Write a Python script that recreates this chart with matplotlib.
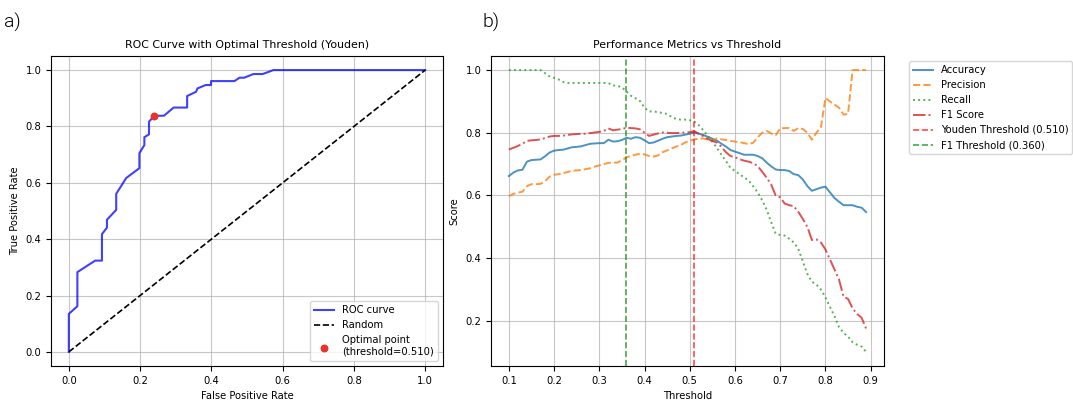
"""Two-panel figure: ROC curve with Youden point, and metrics vs threshold."""

import matplotlib

matplotlib.use("Agg")
import matplotlib.pyplot as plt  # noqa: E402

# ---- panel a) ROC curve -------------------------------------------------
fpr = [0.000, 0.000, 0.024, 0.024, 0.074, 0.093, 0.093, 0.107, 0.107, 0.133,
       0.133, 0.161, 0.198, 0.198, 0.212, 0.212, 0.225, 0.225, 0.240, 0.267,
       0.294, 0.332, 0.332, 0.357, 0.361, 0.384, 0.399, 0.399, 0.465, 0.479,
       0.492, 0.518, 0.544, 0.574, 1.000]
tpr = [0.000, 0.135, 0.162, 0.283, 0.324, 0.324, 0.418, 0.441, 0.469, 0.504,
       0.561, 0.617, 0.652, 0.705, 0.734, 0.762, 0.772, 0.817, 0.838, 0.838,
       0.867, 0.867, 0.908, 0.923, 0.935, 0.947, 0.947, 0.961, 0.961, 0.973,
       0.973, 0.986, 0.986, 1.000, 1.000]
optimal_fpr = 0.240
optimal_tpr = 0.838
youden_threshold = 0.510
f1_threshold = 0.360

# ---- panel b) metrics vs threshold --------------------------------------
thresholds = [
    0.10, 0.11, 0.12, 0.13, 0.14, 0.15, 0.16, 0.17, 0.18, 0.19,
    0.20, 0.21, 0.22, 0.23, 0.24, 0.25, 0.26, 0.27, 0.28, 0.29,
    0.30, 0.31, 0.32, 0.33, 0.34, 0.35, 0.36, 0.37, 0.38, 0.39,
    0.40, 0.41, 0.42, 0.43, 0.44, 0.45, 0.46, 0.47, 0.48, 0.49,
    0.50, 0.51, 0.52, 0.53, 0.54, 0.55, 0.56, 0.57, 0.58, 0.59,
    0.60, 0.61, 0.62, 0.63, 0.64, 0.65, 0.66, 0.67, 0.68, 0.69,
    0.70, 0.71, 0.72, 0.73, 0.74, 0.75, 0.76, 0.77, 0.78, 0.79,
    0.80, 0.81, 0.82, 0.83, 0.84, 0.85, 0.86, 0.87, 0.88, 0.89,
]
accuracy = [
    0.662, 0.673, 0.680, 0.682, 0.708, 0.713, 0.714, 0.715, 0.725, 0.737,
    0.743, 0.745, 0.746, 0.750, 0.754, 0.755, 0.757, 0.761, 0.765, 0.766,
    0.767, 0.767, 0.778, 0.772, 0.773, 0.777, 0.784, 0.781, 0.786, 0.784,
    0.776, 0.767, 0.769, 0.775, 0.781, 0.786, 0.788, 0.790, 0.791, 0.794,
    0.797, 0.801, 0.797, 0.793, 0.787, 0.781, 0.775, 0.765, 0.756, 0.745,
    0.740, 0.735, 0.730, 0.730, 0.730, 0.726, 0.719, 0.705, 0.693, 0.683,
    0.681, 0.681, 0.678, 0.668, 0.665, 0.651, 0.630, 0.615, 0.620, 0.625,
    0.628, 0.610, 0.592, 0.580, 0.569, 0.569, 0.569, 0.564, 0.561, 0.547,
]
precision = [
    0.598, 0.605, 0.609, 0.612, 0.630, 0.636, 0.636, 0.637, 0.646, 0.660,
    0.666, 0.668, 0.671, 0.675, 0.679, 0.680, 0.681, 0.684, 0.687, 0.692,
    0.696, 0.700, 0.704, 0.705, 0.705, 0.712, 0.722, 0.726, 0.730, 0.733,
    0.731, 0.726, 0.724, 0.728, 0.738, 0.744, 0.750, 0.756, 0.761, 0.769,
    0.775, 0.779, 0.781, 0.782, 0.778, 0.774, 0.782, 0.779, 0.777, 0.774,
    0.772, 0.770, 0.767, 0.764, 0.768, 0.785, 0.800, 0.806, 0.798, 0.792,
    0.814, 0.815, 0.815, 0.806, 0.815, 0.812, 0.800, 0.778, 0.800, 0.818,
    0.911, 0.900, 0.890, 0.880, 0.858, 0.860, 1.000, 1.000, 1.000, 1.000,
]
recall = [
    1.000, 1.000, 1.000, 1.000, 1.000, 1.000, 1.000, 1.000, 0.990, 0.980,
    0.975, 0.970, 0.962, 0.959, 0.959, 0.959, 0.959, 0.959, 0.959, 0.959,
    0.959, 0.959, 0.959, 0.951, 0.950, 0.945, 0.932, 0.918, 0.910, 0.901,
    0.880, 0.868, 0.868, 0.866, 0.863, 0.860, 0.850, 0.844, 0.842, 0.842,
    0.840, 0.836, 0.824, 0.808, 0.790, 0.772, 0.752, 0.730, 0.710, 0.688,
    0.678, 0.668, 0.658, 0.648, 0.630, 0.610, 0.585, 0.555, 0.515, 0.478,
    0.474, 0.472, 0.462, 0.450, 0.430, 0.390, 0.350, 0.325, 0.316, 0.300,
    0.275, 0.245, 0.215, 0.180, 0.162, 0.150, 0.132, 0.124, 0.118, 0.101,
]
f1_score = [
    0.747, 0.752, 0.758, 0.765, 0.774, 0.776, 0.777, 0.779, 0.783, 0.788,
    0.790, 0.790, 0.791, 0.793, 0.795, 0.796, 0.797, 0.797, 0.799, 0.801,
    0.803, 0.806, 0.814, 0.808, 0.810, 0.812, 0.816, 0.815, 0.814, 0.811,
    0.800, 0.790, 0.794, 0.798, 0.801, 0.800, 0.799, 0.799, 0.800, 0.801,
    0.802, 0.805, 0.797, 0.789, 0.780, 0.774, 0.769, 0.755, 0.738, 0.726,
    0.722, 0.716, 0.711, 0.708, 0.703, 0.694, 0.676, 0.657, 0.635, 0.600,
    0.594, 0.574, 0.569, 0.566, 0.548, 0.525, 0.500, 0.458, 0.460, 0.450,
    0.428, 0.396, 0.364, 0.332, 0.277, 0.270, 0.240, 0.222, 0.210, 0.175,
]

FS = 7.2

fig = plt.figure(figsize=(10.73, 4.0), dpi=100)
ax_roc = fig.add_axes([51 / 1073, 34 / 400, 392 / 1073, 310 / 400])
ax_met = fig.add_axes([491 / 1073, 34 / 400, 393 / 1073, 310 / 400])

# Left: ROC curve
ax_roc.plot(fpr, tpr, color="blue", lw=1.5, alpha=0.75, label="ROC curve")
ax_roc.plot([0, 1], [0, 1], color="black", ls="--", lw=1.2, label="Random")
ax_roc.scatter([optimal_fpr], [optimal_tpr], color="#e8322a", s=22, zorder=5,
               label=f"Optimal point\n(threshold={youden_threshold:.3f})")
ax_roc.set_xlabel("False Positive Rate", fontsize=FS)
ax_roc.set_ylabel("True Positive Rate", fontsize=FS)
ax_roc.set_title("ROC Curve with Optimal Threshold (Youden)", fontsize=FS + 0.7)
ax_roc.grid(True, alpha=0.7)
ax_roc.tick_params(labelsize=FS)
ax_roc.legend(loc="lower right", fontsize=FS)

# Right: metrics vs threshold
ax_met.plot(thresholds, accuracy, color="#1f77b4", lw=1.4, alpha=0.8,
            label="Accuracy")
ax_met.plot(thresholds, precision, color="#ff7f0e", ls="--", lw=1.4, alpha=0.8,
            label="Precision")
ax_met.plot(thresholds, recall, color="#2ca02c", ls=":", lw=1.4, alpha=0.8,
            label="Recall")
ax_met.plot(thresholds, f1_score, color="#d62728", ls="-.", lw=1.4, alpha=0.8,
            label="F1 Score")
ax_met.axvline(youden_threshold, color="red", ls="--", lw=1.2, alpha=0.7,
               label=f"Youden Threshold ({youden_threshold:.3f})")
ax_met.axvline(f1_threshold, color="green", ls="--", lw=1.2, alpha=0.7,
               label=f"F1 Threshold ({f1_threshold:.3f})")
ax_met.set_xlabel("Threshold", fontsize=FS)
ax_met.set_ylabel("Score", fontsize=FS)
ax_met.set_title("Performance Metrics vs Threshold", fontsize=FS + 0.7)
ax_met.grid(True, alpha=0.7)
ax_met.tick_params(labelsize=FS)
ax_met.legend(loc="upper left", bbox_to_anchor=(1.05, 1.0), fontsize=FS)

# panel letters
fig.text(4 / 1073, 1 - 28 / 400, "a)", fontsize=14, family="Roboto",
         fontweight=300, color="black")
fig.text(482 / 1073, 1 - 28 / 400, "b)", fontsize=14, family="Roboto",
         fontweight=300, color="black")

fig.savefig("out.png", dpi=100)
plt.close(fig)
